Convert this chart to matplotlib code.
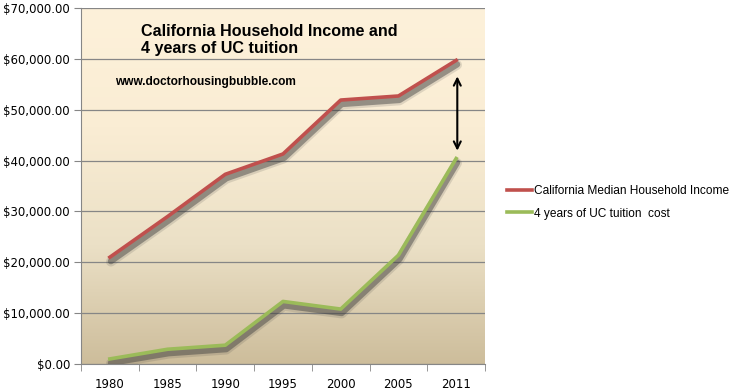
import numpy as np
import matplotlib.pyplot as plt
import matplotlib.transforms as mtransforms
from matplotlib.colors import LinearSegmentedColormap

years = ['1980', '1985', '1990', '1995', '2000', '2005', '2011']
income = [21000, 29000, 37300, 41300, 51900, 52700, 59700]
tuition = [1000, 2900, 3700, 12300, 10800, 21400, 40400]
yticks = [0, 10000, 20000, 30000, 40000, 50000, 60000, 70000]

fig = plt.figure(figsize=(7.42, 3.92), dpi=100)
ax = fig.add_axes([81/742, 28/392, 404/742, 356/392])

x = np.arange(len(years))
ax.set_xlim(-0.5, len(years) - 0.5)
ax.set_ylim(0, 70000)

# background gradient
bg = LinearSegmentedColormap.from_list('bg', ['#cdbd9b', '#ebe0c6', '#faedd4', '#fdf1da'])
grad = np.linspace(0, 1, 256).reshape(-1, 1)
ax.imshow(grad, aspect='auto', cmap=bg, origin='lower',
          extent=[-0.5, len(years) - 0.5, 0, 70000], zorder=0)

for t in yticks:
    ax.axhline(t, color='#868686', lw=0.9, zorder=1)

# shadows
for dy, lw, a in [(-4.5, 7, 0.15), (-4, 4.5, 0.45)]:
    off = mtransforms.offset_copy(ax.transData, fig=fig, x=1, y=dy, units='dots')
    ax.plot(x, income, color='#3c3c3c', lw=lw, alpha=a, transform=off, zorder=2,
            solid_joinstyle='round', solid_capstyle='round')
    ax.plot(x, tuition, color='#3c3c3c', lw=lw, alpha=a, transform=off, zorder=2,
            solid_joinstyle='round', solid_capstyle='round')

ax.plot(x, income, color='#c0504d', lw=2.6, zorder=3, label='California Median Household Income')
ax.plot(x, tuition, color='#9bbb59', lw=2.6, zorder=3, label='4 years of UC tuition  cost')

ax.annotate('', xy=(6.02, tuition[-1] + 1000), xytext=(6.02, income[-1] - 2600),
            arrowprops=dict(arrowstyle='<->,head_length=0.5,head_width=0.25', color='black', lw=1.5),
            zorder=4)

ax.set_yticks(yticks)
ax.set_yticklabels(['${:,.2f}'.format(v) for v in yticks], fontsize=8.5)
ax.set_xticks(x)
ax.set_xticklabels(years, fontsize=8.5)
ax.set_xticks(np.arange(-0.5, len(years)), minor=True)
ax.tick_params(axis='x', which='major', length=0, pad=10)
ax.tick_params(axis='x', which='minor', length=5, color='#868686')
ax.tick_params(axis='y', length=5, color='#868686', pad=3)
for s in ['top', 'right']:
    ax.spines[s].set_visible(False)
ax.spines['left'].set_color('#868686')
ax.spines['bottom'].set_color('#868686')

fig.text(141/742, 1 - 31/392, 'California Household Income and', fontsize=11.6,
         fontweight='bold', family='Liberation Sans', va='center')
fig.text(141/742, 1 - 49/392, '4 years of UC tuition', fontsize=11.6,
         fontweight='bold', family='Liberation Sans', va='center')
fig.text(115/742, 1 - 82/392, 'www.doctorhousingbubble.com', fontsize=8.6,
         fontweight='bold', family='Liberation Sans', va='center')

leg = fig.legend(loc='upper left', bbox_to_anchor=(496/742, 1 - 174/392), frameon=False,
                 prop={'family': 'Liberation Sans', 'size': 8.6},
                 handlelength=2.1, handletextpad=0.2, labelspacing=0.9)

fig.savefig('out.png', dpi=100)
